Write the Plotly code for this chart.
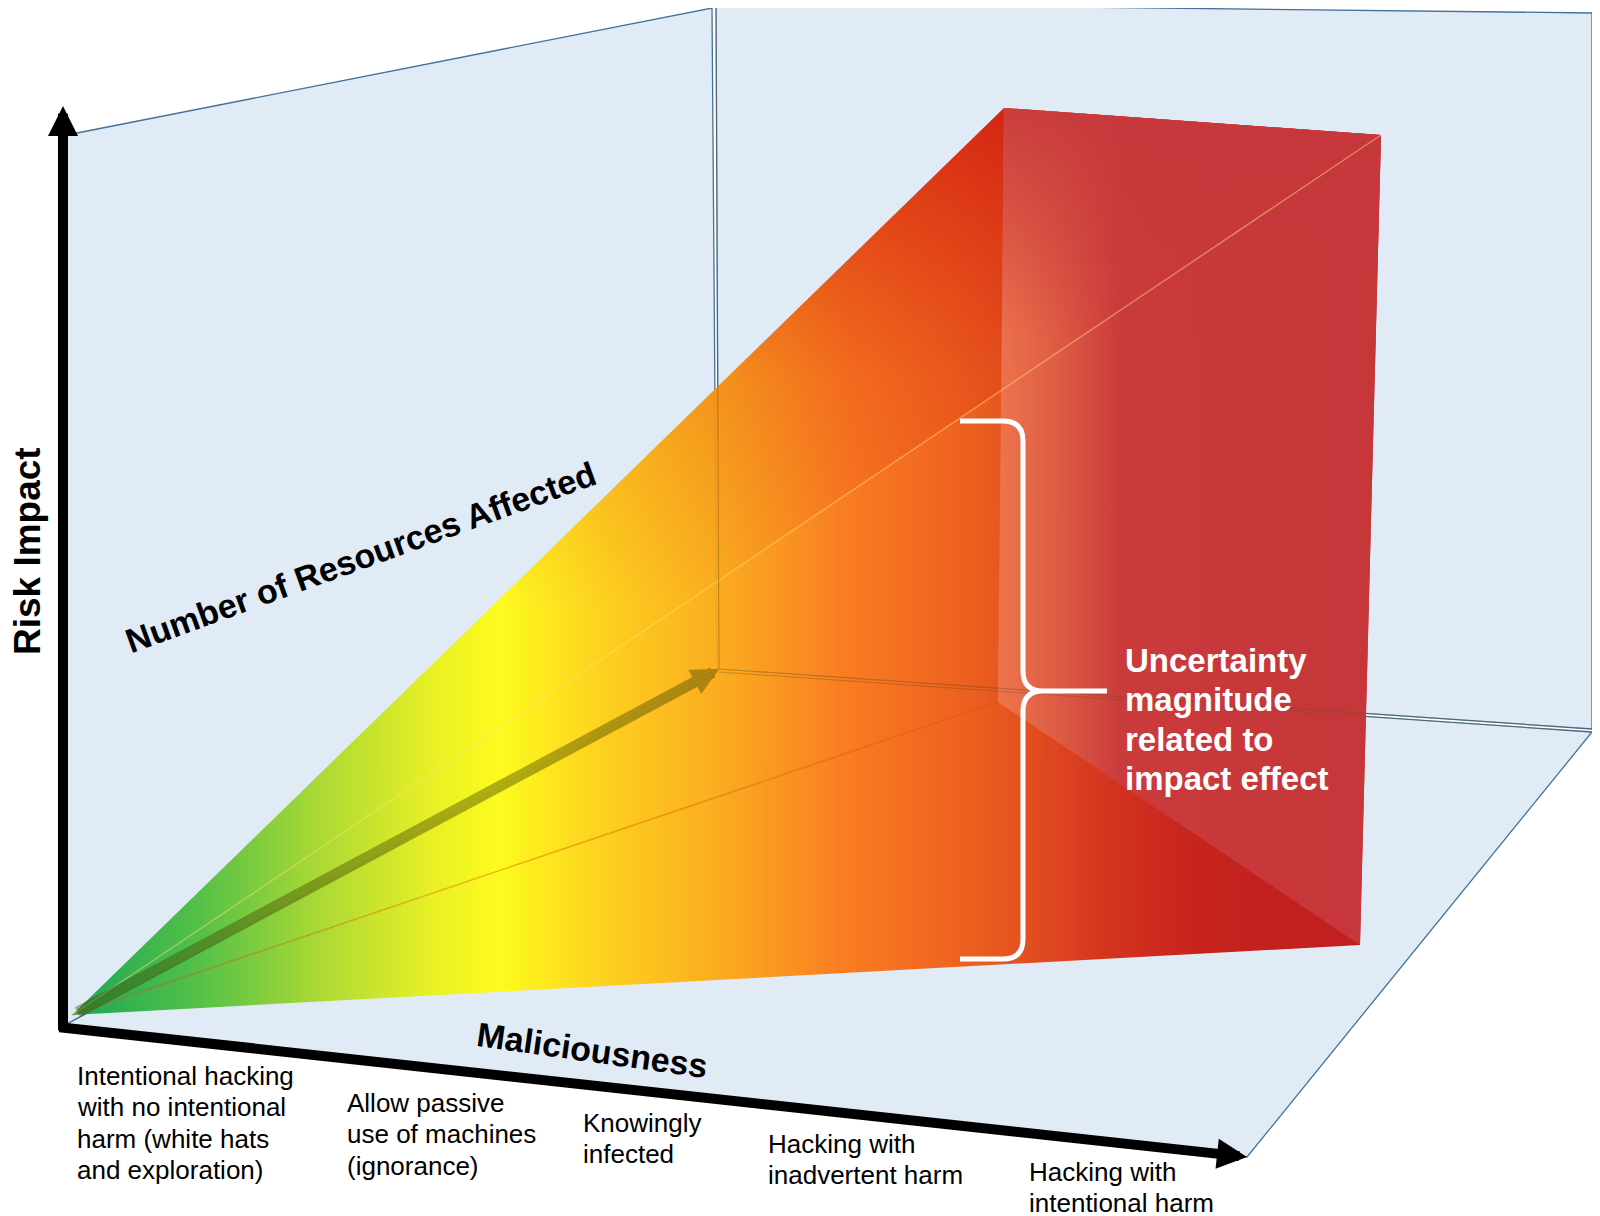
#!/usr/bin/env python3
import plotly.graph_objects as go

# canvas units: 1 unit = 1 px of the picture, y grows downward (axis is reversed)
W, H = 1600, 1216
PAGE_PAD = 8  # the html body margin; axis ranges are shifted so units match page pixels

# pale panels of the box (left wall, back wall, floor)
LEFT_WALL_X = [63, 63, 77, 712, 717]
LEFT_WALL_Y = [1026, 136, 133, 8, 669]
BACK_WALL_X = [716, 1592, 1592, 719]
BACK_WALL_Y = [3, 13, 729, 669]
FLOOR_X = [63, 719, 1592, 1247]
FLOOR_Y = [1026, 672, 732, 1157]

# risk wedge: apex at the origin, far face corners A, B, C, D
APEX_X, APEX_Y = 72, 1015
FAR_X = [1004, 1381, 1360, 998]
FAR_Y = [108, 135, 945, 702]

# axis arrows (tail -> tip)
IMPACT_AXIS_X = [63, 63]
IMPACT_AXIS_Y = [1032, 106]
MALICE_AXIS_X = [58, 1247]
MALICE_AXIS_Y = [1027, 1157]
RESOURCE_AXIS_X = [76, 719]
RESOURCE_AXIS_Y = [1013, 669]

# gradient along the maliciousness direction
GRADIENT_X = [72, 200, 320, 430, 500, 600, 720, 850, 950, 1020, 1100, 1200, 1381]
GRADIENT_COLORS = ["#10a24e", "#4cbe3c", "#a8d828", "#e8f018", "#fffc10", "#ffd012",
                   "#fca812", "#fa7414", "#f05c12", "#e44812", "#d42a10", "#c41610", "#be1212"]

CATEGORIES = [
    "Intentional hacking<br>with no intentional<br>harm (white hats<br>and exploration)",
    "Allow passive<br>use of machines<br>(ignorance)",
    "Knowingly<br>infected",
    "Hacking with<br>inadvertent harm",
    "Hacking with<br>intentional harm",
]
CAT_X = [75, 345, 581, 766, 1027]
CAT_Y = [1076, 1103, 1123, 1144, 1172]  # centre of the first line
CAT_LINE = 31.3

UNCERTAINTY_LINES = ["Uncertainty", "magnitude", "related to", "impact effect"]

# brace: tips, stem, nose and vertical extent
BRACE_TIP_X, BRACE_STEM_X, BRACE_NOSE_X = 960, 1023, 1107
BRACE_TOP_Y, BRACE_MID_Y, BRACE_BOT_Y = 421, 691, 959

FONT = "Liberation Sans, Arial, sans-serif"
PANEL_FILL = "#e0ebf6"
PANEL_EDGE = "#41719c"


def closed(xs, ys):
    return list(xs) + [xs[0]], list(ys) + [ys[0]]


def scale(xs, colors):
    lo, hi = xs[0], xs[-1]
    return [[(x - lo) / (hi - lo), c] for x, c in zip(xs, colors)]


fig = go.Figure()

# panels
for px_, py_ in [(FLOOR_X, FLOOR_Y), (LEFT_WALL_X, LEFT_WALL_Y), (BACK_WALL_X, BACK_WALL_Y)]:
    x, y = closed(px_, py_)
    fig.add_trace(go.Scatter(x=x, y=y, mode="lines", fill="toself", fillcolor=PANEL_FILL,
                             line=dict(color=PANEL_EDGE, width=1.3), hoverinfo="skip"))

# whole wedge silhouette (apex, A, B, C)
wx, wy = closed([APEX_X, FAR_X[0], FAR_X[1], FAR_X[2]], [APEX_Y, FAR_Y[0], FAR_Y[1], FAR_Y[2]])
fig.add_trace(go.Scatter(
    x=wx, y=wy, mode="lines", fill="toself", line=dict(width=0, color="rgba(0,0,0,0)"),
    fillgradient=dict(type="horizontal", colorscale=scale(GRADIENT_X, GRADIENT_COLORS),
                      start=GRADIENT_X[0], stop=GRADIENT_X[-1]),
    opacity=0.94, hoverinfo="skip"))

# top face (apex, A, B) gets redder towards the top
tx, ty = closed([APEX_X, FAR_X[0], FAR_X[1]], [APEX_Y, FAR_Y[0], FAR_Y[1]])
fig.add_trace(go.Scatter(
    x=tx, y=ty, mode="lines", fill="toself", line=dict(width=0, color="rgba(0,0,0,0)"),
    fillgradient=dict(type="vertical",
                      colorscale=[[0, "rgba(215,40,15,0)"], [0.45, "rgba(215,40,15,0)"],
                                  [0.7, "rgba(215,40,15,0.2)"], [1, "rgba(205,22,15,0.75)"]],
                      start=APEX_Y, stop=FAR_Y[0]),
    hoverinfo="skip"))

# far face (A, B, C, D), translucent lighter red
fx, fy = closed(FAR_X, FAR_Y)
fig.add_trace(go.Scatter(
    x=fx, y=fy, mode="lines", fill="toself", line=dict(width=0, color="rgba(0,0,0,0)"),
    fillgradient=dict(type="horizontal",
                      colorscale=[[0, "rgba(238,122,84,0.85)"], [0.15, "rgba(222,96,74,0.88)"],
                                  [0.32, "rgba(202,60,62,0.92)"], [1, "rgba(198,56,60,0.92)"]],
                      start=FAR_X[3], stop=FAR_X[1]),
    hoverinfo="skip"))
fig.add_trace(go.Scatter(
    x=fx, y=fy, mode="lines", fill="toself", line=dict(width=0, color="rgba(0,0,0,0)"),
    fillgradient=dict(type="vertical",
                      colorscale=[[0, "rgba(198,56,60,0.9)"], [1, "rgba(198,56,60,0)"]],
                      start=FAR_Y[0], stop=FAR_Y[0] + 230),
    hoverinfo="skip"))

# inner wedge edges (apex -> B, apex -> D)
fig.add_trace(go.Scatter(x=[APEX_X, FAR_X[1]], y=[APEX_Y, FAR_Y[1]], mode="lines",
                         line=dict(color="rgba(255,225,120,0.45)", width=1.5), hoverinfo="skip"))
fig.add_trace(go.Scatter(x=[APEX_X, FAR_X[3]], y=[APEX_Y, FAR_Y[3]], mode="lines",
                         line=dict(color="rgba(225,80,10,0.4)", width=1.5), hoverinfo="skip"))

# box edges seen through the wedge
fig.add_trace(go.Scatter(x=[BACK_WALL_X[0], BACK_WALL_X[3], BACK_WALL_X[2]],
                         y=[BACK_WALL_Y[0], BACK_WALL_Y[3], BACK_WALL_Y[2]], mode="lines",
                         line=dict(color="rgba(110,80,40,0.35)", width=1.2), hoverinfo="skip"))
fig.add_trace(go.Scatter(x=[FLOOR_X[1], FLOOR_X[2]], y=[FLOOR_Y[1], FLOOR_Y[2]], mode="lines",
                         line=dict(color="rgba(110,80,40,0.3)", width=1), hoverinfo="skip"))

annotations = []


def arrow(xs, ys, color, width, size):
    return dict(x=xs[1], y=ys[1], ax=xs[0], ay=ys[0], xref="x", yref="y", axref="x", ayref="y",
                text="", showarrow=True, arrowhead=2, arrowwidth=width, arrowsize=size,
                arrowcolor=color, standoff=0, startstandoff=0)


annotations.append(arrow(RESOURCE_AXIS_X, RESOURCE_AXIS_Y, "rgba(70,70,0,0.42)", 11, 0.5))
annotations.append(arrow(IMPACT_AXIS_X, IMPACT_AXIS_Y, "black", 10, 0.6))
annotations.append(arrow(MALICE_AXIS_X, MALICE_AXIS_Y, "black", 10, 0.6))

# axis titles
annotations.append(dict(x=27, y=551, xref="x", yref="y", text="Risk Impact", showarrow=False,
                        textangle=-90, font=dict(family=FONT, size=37, color="black", weight="bold")))
annotations.append(dict(x=361, y=557, xref="x", yref="y", text="Number of Resources Affected",
                        showarrow=False, textangle=-20,
                        font=dict(family=FONT, size=34, color="black", weight="bold")))
annotations.append(dict(x=592, y=1050, xref="x", yref="y", text="Maliciousness", showarrow=False,
                        textangle=8, font=dict(family=FONT, size=34, color="black", weight="bold")))

# category labels along the maliciousness axis
for label, cx, cy in zip(CATEGORIES, CAT_X, CAT_Y):
    for j, line in enumerate(label.split("<br>")):
        annotations.append(dict(x=cx, y=cy + j * CAT_LINE, xref="x", yref="y", text=line,
                                showarrow=False, xanchor="left", yanchor="middle",
                                font=dict(family=FONT, size=26, color="black")))

# uncertainty note
for i, line in enumerate(UNCERTAINTY_LINES):
    annotations.append(dict(x=1123, y=660 + i * 39.5, xref="x", yref="y", text=line,
                            showarrow=False, xanchor="left", yanchor="middle",
                            font=dict(family=FONT, size=33, color="white", weight="bold")))

r = 20
brace = (
    f"M {BRACE_TIP_X},{BRACE_TOP_Y} L {BRACE_STEM_X - r},{BRACE_TOP_Y} "
    f"Q {BRACE_STEM_X},{BRACE_TOP_Y} {BRACE_STEM_X},{BRACE_TOP_Y + r} "
    f"L {BRACE_STEM_X},{BRACE_MID_Y - r} "
    f"Q {BRACE_STEM_X},{BRACE_MID_Y} {BRACE_STEM_X + r},{BRACE_MID_Y} "
    f"L {BRACE_NOSE_X},{BRACE_MID_Y} "
    f"M {BRACE_STEM_X + r},{BRACE_MID_Y} "
    f"Q {BRACE_STEM_X},{BRACE_MID_Y} {BRACE_STEM_X},{BRACE_MID_Y + r} "
    f"L {BRACE_STEM_X},{BRACE_BOT_Y - r} "
    f"Q {BRACE_STEM_X},{BRACE_BOT_Y} {BRACE_STEM_X - r},{BRACE_BOT_Y} "
    f"L {BRACE_TIP_X},{BRACE_BOT_Y}"
)

fig.update_layout(
    width=W, height=H, margin=dict(l=0, r=0, t=0, b=0),
    paper_bgcolor="white", plot_bgcolor="white", showlegend=False,
    xaxis=dict(range=[PAGE_PAD, W + PAGE_PAD], visible=False, fixedrange=True),
    yaxis=dict(range=[H + PAGE_PAD, PAGE_PAD], visible=False, fixedrange=True),
    annotations=annotations,
    shapes=[dict(type="path", path=brace, xref="x", yref="y", layer="above",
                 line=dict(color="white", width=5))],
)

fig.write_html("out.html")
